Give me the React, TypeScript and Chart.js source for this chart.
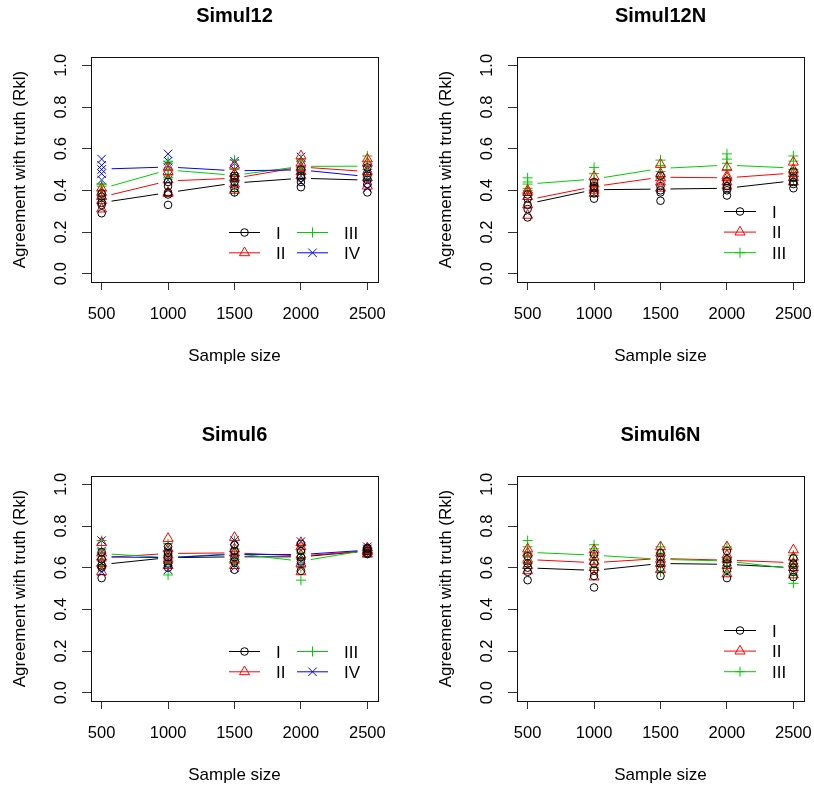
import React, { useEffect, useRef } from "react";
import { Chart, registerables } from "chart.js";
Chart.register(...registerables);

// ---------- data ----------
const sampleSizes = [500, 1000, 1500, 2000, 2500];
const xTicks = [500, 1000, 1500, 2000, 2500];
const yTicks = [0, 0.2, 0.4, 0.6, 0.8, 1.0];
const yTickLabels = ["0.0", "0.2", "0.4", "0.6", "0.8", "1.0"];
const methodNames = ["I", "II", "III", "IV"];
const xLabel = "Sample size";
const yLabel = "Agreement with truth (Rkl)";

// Simul12: replicate values at each sample size, per method
const simul12_I = [[0.29, 0.33, 0.34, 0.37, 0.385], [0.33, 0.38, 0.39, 0.42, 0.44], [0.39, 0.41, 0.44, 0.46, 0.47], [0.415, 0.44, 0.46, 0.47, 0.5], [0.39, 0.43, 0.45, 0.47, 0.51]];
const simul12_II = [[0.31, 0.35, 0.37, 0.39, 0.41], [0.385, 0.39, 0.45, 0.49, 0.51], [0.4, 0.43, 0.46, 0.48, 0.52], [0.47, 0.49, 0.51, 0.53, 0.565], [0.42, 0.46, 0.49, 0.53, 0.55]];
const simul12_III = [[0.36, 0.4, 0.42, 0.43, 0.43], [0.46, 0.47, 0.5, 0.53, 0.54], [0.395, 0.44, 0.47, 0.5, 0.545], [0.48, 0.5, 0.51, 0.54, 0.55], [0.47, 0.5, 0.52, 0.54, 0.565]];
const simul12_IV = [[0.45, 0.48, 0.5, 0.52, 0.55], [0.45, 0.47, 0.52, 0.54, 0.575], [0.43, 0.46, 0.5, 0.53, 0.54], [0.44, 0.47, 0.5, 0.52, 0.56], [0.41, 0.44, 0.46, 0.5, 0.51]];
const simul12_I_mean = [0.341, 0.389, 0.435, 0.458, 0.449];
const simul12_II_mean = [0.368, 0.445, 0.458, 0.512, 0.49];
const simul12_III_mean = [0.408, 0.498, 0.472, 0.515, 0.516];
const simul12_IV_mean = [0.502, 0.512, 0.494, 0.498, 0.466];

// Simul12N
const simul12N_I = [[0.27, 0.31, 0.33, 0.36, 0.38], [0.36, 0.385, 0.41, 0.42, 0.44], [0.35, 0.39, 0.4, 0.42, 0.47], [0.375, 0.4, 0.41, 0.42, 0.445], [0.41, 0.43, 0.44, 0.46, 0.49]];
const simul12N_II = [[0.28, 0.33, 0.37, 0.39, 0.4], [0.385, 0.4, 0.41, 0.43, 0.465], [0.41, 0.44, 0.46, 0.48, 0.525], [0.42, 0.44, 0.46, 0.47, 0.51], [0.44, 0.46, 0.48, 0.5, 0.535]];
const simul12N_III = [[0.4, 0.41, 0.43, 0.44, 0.46], [0.4, 0.43, 0.45, 0.48, 0.51], [0.46, 0.49, 0.51, 0.52, 0.545], [0.45, 0.5, 0.53, 0.55, 0.575], [0.45, 0.48, 0.5, 0.54, 0.565]];
const simul12N_I_mean = [0.335, 0.403, 0.406, 0.41, 0.446];
const simul12N_II_mean = [0.354, 0.418, 0.463, 0.46, 0.483];
const simul12N_III_mean = [0.43, 0.454, 0.505, 0.521, 0.507];

// Simul6
const simul6_I = [[0.55, 0.6, 0.61, 0.64, 0.675], [0.6, 0.62, 0.65, 0.67, 0.7], [0.59, 0.63, 0.65, 0.68, 0.71], [0.585, 0.63, 0.65, 0.68, 0.715], [0.665, 0.67, 0.68, 0.69, 0.695]];
const simul6_II = [[0.58, 0.62, 0.65, 0.67, 0.72], [0.61, 0.64, 0.66, 0.69, 0.74], [0.61, 0.64, 0.67, 0.69, 0.745], [0.58, 0.62, 0.66, 0.7, 0.72], [0.665, 0.675, 0.68, 0.685, 0.695]];
const simul6_III = [[0.61, 0.64, 0.67, 0.69, 0.73], [0.565, 0.62, 0.66, 0.68, 0.715], [0.62, 0.64, 0.66, 0.69, 0.73], [0.54, 0.6, 0.64, 0.67, 0.705], [0.67, 0.68, 0.685, 0.69, 0.695]];
const simul6_IV = [[0.58, 0.62, 0.65, 0.68, 0.73], [0.59, 0.62, 0.65, 0.68, 0.7], [0.6, 0.64, 0.66, 0.69, 0.73], [0.6, 0.63, 0.66, 0.7, 0.725], [0.67, 0.675, 0.685, 0.69, 0.7]];
const simul6_I_mean = [0.615, 0.648, 0.652, 0.652, 0.68];
const simul6_II_mean = [0.648, 0.668, 0.671, 0.656, 0.68];
const simul6_III_mean = [0.668, 0.648, 0.668, 0.631, 0.684];
const simul6_IV_mean = [0.652, 0.648, 0.664, 0.663, 0.684];

// Simul6N
const simul6N_I = [[0.54, 0.58, 0.6, 0.62, 0.655], [0.505, 0.56, 0.585, 0.62, 0.665], [0.56, 0.6, 0.62, 0.65, 0.67], [0.55, 0.59, 0.62, 0.64, 0.68], [0.555, 0.58, 0.6, 0.62, 0.645]];
const simul6N_II = [[0.585, 0.61, 0.64, 0.67, 0.69], [0.555, 0.6, 0.63, 0.65, 0.685], [0.59, 0.62, 0.64, 0.67, 0.7], [0.57, 0.61, 0.64, 0.66, 0.7], [0.565, 0.6, 0.62, 0.65, 0.685]];
const simul6N_III = [[0.62, 0.65, 0.67, 0.7, 0.73], [0.6, 0.64, 0.66, 0.69, 0.71], [0.58, 0.61, 0.64, 0.67, 0.7], [0.58, 0.61, 0.63, 0.64, 0.7], [0.525, 0.565, 0.6, 0.62, 0.66]];
const simul6N_I_mean = [0.599, 0.587, 0.62, 0.616, 0.6];
const simul6N_II_mean = [0.639, 0.624, 0.644, 0.636, 0.624];
const simul6N_III_mean = [0.674, 0.66, 0.64, 0.632, 0.594];

// ---------- style ----------
const COLORS = ["#000000", "#FF0000", "#00CD00", "#0000FF"];
const STYLES = ["circle", "triangle", "cross", "crossRot"];
const RADII = [3.8, 5.8, 5, 6];
const FONT = "'Liberation Sans', Arial, Helvetica, sans-serif";
const GAP = 10;

type PanelDef = {
  title: string;
  left: number;
  top: number;
  width: number;
  height: number;
  reps: number[][][];
  means: number[][];
  legendCols: number;
};

const panels: PanelDef[] = [
  { title: "Simul12", left: 0, top: 0, width: 407, height: 392, reps: [simul12_I, simul12_II, simul12_III, simul12_IV], means: [simul12_I_mean, simul12_II_mean, simul12_III_mean, simul12_IV_mean], legendCols: 2 },
  { title: "Simul12N", left: 426, top: 0, width: 388, height: 392, reps: [simul12N_I, simul12N_II, simul12N_III], means: [simul12N_I_mean, simul12N_II_mean, simul12N_III_mean], legendCols: 1 },
  { title: "Simul6", left: 0, top: 419, width: 407, height: 366, reps: [simul6_I, simul6_II, simul6_III, simul6_IV], means: [simul6_I_mean, simul6_II_mean, simul6_III_mean, simul6_IV_mean], legendCols: 2 },
  { title: "Simul6N", left: 426, top: 419, width: 388, height: 366, reps: [simul6N_I, simul6N_II, simul6N_III], means: [simul6N_I_mean, simul6N_II_mean, simul6N_III_mean], legendCols: 1 },
];

function drawMarker(ctx: CanvasRenderingContext2D, style: string, x: number, y: number, r: number) {
  ctx.beginPath();
  if (style === "circle") {
    ctx.arc(x, y, r, 0, Math.PI * 2);
  } else if (style === "triangle") {
    let rad = 0;
    ctx.moveTo(x + Math.sin(rad) * r, y - Math.cos(rad) * r);
    rad += (2 * Math.PI) / 3;
    ctx.lineTo(x + Math.sin(rad) * r, y - Math.cos(rad) * r);
    rad += (2 * Math.PI) / 3;
    ctx.lineTo(x + Math.sin(rad) * r, y - Math.cos(rad) * r);
    ctx.closePath();
  } else if (style === "cross") {
    ctx.moveTo(x - r, y);
    ctx.lineTo(x + r, y);
    ctx.moveTo(x, y - r);
    ctx.lineTo(x, y + r);
  } else {
    const o = Math.cos(Math.PI / 4) * r;
    ctx.moveTo(x - o, y - o);
    ctx.lineTo(x + o, y + o);
    ctx.moveTo(x + o, y - o);
    ctx.lineTo(x - o, y + o);
  }
  ctx.stroke();
}

function makePlugin(p: PanelDef) {
  return {
    id: "rpanel",
    afterDatasetsDraw(chart: any) {
      const ctx: CanvasRenderingContext2D = chart.ctx;
      chart.data.datasets.forEach((ds: any, di: number) => {
        if (!ds.isMean) return;
        const meta = chart.getDatasetMeta(di);
        ctx.save();
        ctx.strokeStyle = ds.borderColor;
        ctx.lineWidth = 1;
        ctx.beginPath();
        for (let i = 0; i < meta.data.length - 1; i++) {
          const a = meta.data[i];
          const b = meta.data[i + 1];
          const dx = b.x - a.x;
          const dy = b.y - a.y;
          const len = Math.sqrt(dx * dx + dy * dy);
          if (len <= 2 * GAP) continue;
          const ux = dx / len;
          const uy = dy / len;
          ctx.moveTo(a.x + ux * GAP, a.y + uy * GAP);
          ctx.lineTo(b.x - ux * GAP, b.y - uy * GAP);
        }
        ctx.stroke();
        ctx.restore();
      });
    },
    afterDraw(chart: any) {
      const ctx: CanvasRenderingContext2D = chart.ctx;
      const ca = chart.chartArea;
      const xs = chart.scales.x;
      const ys = chart.scales.y;
      ctx.save();
      // box
      ctx.strokeStyle = "#111";
      ctx.lineWidth = 1;
      ctx.strokeRect(Math.round(ca.left) + 0.5, Math.round(ca.top) + 0.5, Math.round(ca.right - ca.left), Math.round(ca.bottom - ca.top));
      ctx.fillStyle = "#000";
      // title
      ctx.font = `bold 20px ${FONT}`;
      ctx.textAlign = "center";
      ctx.textBaseline = "alphabetic";
      const cx = (ca.left + ca.right) / 2;
      ctx.fillText(p.title, cx, 22);
      // x tick labels
      ctx.font = `16.5px ${FONT}`;
      xTicks.forEach((v) => {
        ctx.fillText(String(v), xs.getPixelForValue(v), 319);
      });
      // x label
      ctx.font = `17px ${FONT}`;
      ctx.fillText(xLabel, cx, 361);
      // y tick labels (rotated)
      ctx.font = `16.5px ${FONT}`;
      yTicks.forEach((v, i) => {
        ctx.save();
        ctx.translate(66, ys.getPixelForValue(v));
        ctx.rotate(-Math.PI / 2);
        ctx.fillText(yTickLabels[i], 0, 0);
        ctx.restore();
      });
      // y label
      ctx.font = `17px ${FONT}`;
      ctx.save();
      ctx.translate(25, (ca.top + ca.bottom) / 2);
      ctx.rotate(-Math.PI / 2);
      ctx.fillText(yLabel, 0, 0);
      ctx.restore();
      // legend
      const n = p.reps.length;
      ctx.font = `17px ${FONT}`;
      ctx.textAlign = "left";
      for (let m = 0; m < n; m++) {
        let lx1: number, lx2: number, tx: number, y: number;
        if (p.legendCols === 2) {
          const col = Math.floor(m / 2);
          const row = m % 2;
          lx1 = col === 0 ? 229 : 297;
          lx2 = lx1 + 31;
          tx = col === 0 ? 276 : 344;
          y = 232.5 + row * 20.3;
        } else {
          lx1 = 298;
          lx2 = 330;
          tx = 346;
          y = 211.5 + m * 20.6;
        }
        ctx.strokeStyle = COLORS[m];
        ctx.lineWidth = 1;
        ctx.beginPath();
        ctx.moveTo(lx1, y);
        ctx.lineTo(lx2, y);
        ctx.stroke();
        drawMarker(ctx, STYLES[m], (lx1 + lx2) / 2, y, RADII[m]);
        ctx.fillStyle = "#000";
        ctx.fillText(methodNames[m], tx, y + 6);
      }
      ctx.restore();
    },
  };
}

function PanelChart({ p }: { p: PanelDef }) {
  const ref = useRef<HTMLCanvasElement>(null);
  useEffect(() => {
    if (!ref.current) return;
    const datasets: any[] = [];
    p.reps.forEach((rep, m) => {
      const data: { x: number; y: number }[] = [];
      rep.forEach((vals, i) => vals.forEach((v) => data.push({ x: sampleSizes[i], y: v })));
      datasets.push({
        label: methodNames[m],
        data,
        pointStyle: STYLES[m],
        pointRadius: RADII[m],
        pointBorderColor: COLORS[m],
        borderColor: COLORS[m],
        pointBackgroundColor: "rgba(0,0,0,0)",
        backgroundColor: "rgba(0,0,0,0)",
        pointBorderWidth: 1,
        showLine: false,
      });
    });
    p.means.forEach((mean, m) => {
      datasets.push({
        label: methodNames[m] + " mean",
        data: mean.map((v, i) => ({ x: sampleSizes[i], y: v })),
        pointRadius: 0,
        pointHitRadius: 0,
        showLine: false,
        borderColor: COLORS[m],
        isMean: true,
      });
    });
    const chart = new Chart(ref.current, {
      type: "scatter",
      data: { datasets },
      options: {
        responsive: false,
        animation: false,
        devicePixelRatio: 1,
        events: [],
        layout: { padding: { left: 0, top: 57, right: p.width - 378, bottom: 0 } },
        plugins: { legend: { display: false }, title: { display: false }, tooltip: { enabled: false } },
        scales: {
          x: {
            type: "linear",
            position: "bottom",
            min: 420,
            max: 2580,
            afterBuildTicks: (s: any) => {
              s.ticks = xTicks.map((v) => ({ value: v }));
            },
            afterFit: (s: any) => {
              s.height = p.height - 282;
            },
            ticks: { display: false },
            border: { display: false },
            grid: { drawOnChartArea: false, drawTicks: true, tickLength: 8, color: "#333", lineWidth: 1 },
          },
          y: {
            type: "linear",
            position: "left",
            min: -0.04,
            max: 1.04,
            afterBuildTicks: (s: any) => {
              s.ticks = yTicks.map((v) => ({ value: v }));
            },
            afterFit: (s: any) => {
              s.width = 91;
            },
            ticks: { display: false },
            border: { display: false },
            grid: { drawOnChartArea: false, drawTicks: true, tickLength: 9, color: "#333", lineWidth: 1 },
          },
        },
      } as any,
      plugins: [makePlugin(p)],
    });
    return () => chart.destroy();
  }, [p]);
  return (
    <canvas
      ref={ref}
      width={p.width}
      height={p.height}
      style={{ position: "absolute", left: p.left, top: p.top, width: p.width, height: p.height }}
    />
  );
}

export default function App() {
  return (
    <div style={{ position: "absolute", left: 0, top: 0, width: 814, height: 785, overflow: "hidden", background: "#fff" }}>
      {panels.map((p) => (
        <PanelChart key={p.title} p={p} />
      ))}
    </div>
  );
}
